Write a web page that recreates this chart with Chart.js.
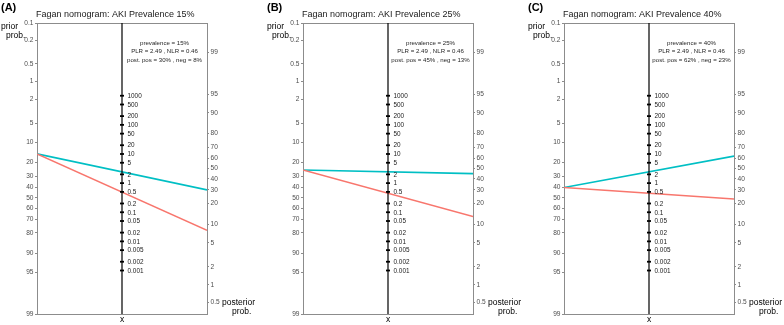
<!DOCTYPE html>
<html>
<head>
<meta charset="utf-8">
<script src="https://cdn.jsdelivr.net/npm/chart.js@4"></script>
<style>
    html, body { margin: 0; padding: 0; background: #fff; }
    #wrap { position: relative; width: 784px; height: 325px; overflow: hidden; }
    .panel { position: absolute; top: 0; height: 325px; }
</style>
</head>
<body>
<div id="wrap">
    <div class="panel" style="left:0px;width:262px"><canvas id="c0"></canvas></div>
    <div class="panel" style="left:262px;width:262px"><canvas id="c1"></canvas></div>
    <div class="panel" style="left:524px;width:260px"><canvas id="c2"></canvas></div>
</div>
<script>
// values
const panelLetters = ['(A)', '(B)', '(C)'];
const prevalence = [15, 25, 40];
const plrValues = [2.49, 2.49, 2.49];
const nlrValues = [0.46, 0.46, 0.46];
const postPositive = [30, 45, 62];
const postNegative = [8, 13, 23];
const priorTicks = [0.1, 0.2, 0.5, 1, 2, 5, 10, 20, 30, 40, 50, 60, 70, 80, 90, 95, 99];
const posteriorTicks = [99, 95, 90, 80, 70, 60, 50, 40, 30, 20, 10, 5, 2, 1, 0.5];
const lrTicks = [1000, 500, 200, 100, 50, 20, 10, 5, 2, 1, 0.5, 0.2, 0.1, 0.05, 0.02, 0.01, 0.005, 0.002, 0.001];

const FONT = '"Liberation Sans", Arial, sans-serif';
const plotLefts = [37, 41, 40];
const plotWidth = 170;

// left axis = log-odds of prior, right axis mirrored around the middle of the plot
function logit(pct) {
    var p = pct / 100;
    return Math.log(p / (1 - p));
}
var yMin = logit(priorTicks[0]);
var yMax = logit(priorTicks[priorTicks.length - 1]);
var yMid = (yMin + yMax) / 2;

function posteriorPos(pct) { return yMid - logit(pct); }
function lrPos(lr) { return (yMid - Math.log(lr)) / 2; }

var nomogramText = {
    id: 'nomogramText',
    beforeDatasetsDraw: function (chart) {
        var a = chart.chartArea, ctx = chart.ctx;
        ctx.save();
        ctx.strokeStyle = '#8c8c8c';
        ctx.lineWidth = 1;
        ctx.strokeRect(Math.round(a.left) + 0.5, Math.round(a.top) + 0.5, Math.round(a.right - a.left), Math.round(a.bottom - a.top));
        ctx.restore();
    },
    afterDraw: function (chart, args, opts) {
        var i = opts.panel;
        var a = chart.chartArea, ctx = chart.ctx;
        var xs = chart.scales.x;
        ctx.save();
        ctx.textBaseline = 'middle';

        // panel letter and title
        ctx.fillStyle = '#000';
        ctx.textAlign = 'left';
        ctx.font = 'bold 11px ' + FONT;
        ctx.fillText(panelLetters[i], a.left - 37 + 1, 7.5);
        ctx.font = '9px ' + FONT;
        ctx.fillStyle = '#1a1a1a';
        ctx.fillText('Fagan nomogram: AKI Prevalence ' + prevalence[i] + '%', a.left - 1, 15);

        // axis names
        ctx.font = '8.5px ' + FONT;
        ctx.fillStyle = '#000';
        ctx.fillText('prior', a.left - 36, 27);
        ctx.fillText('prob.', a.left - 31, 35.5);
        ctx.fillText('posterior', a.right + 15, 302.5);
        ctx.fillText('prob.', a.right + 25, 311.5);
        ctx.textAlign = 'center';
        ctx.fillText('x', xs.getPixelForValue(0.5), 320);

        // LR labels next to the middle axis
        var meta = chart.getDatasetMeta(1);
        ctx.font = '6.4px ' + FONT;
        ctx.fillStyle = '#1a1a1a';
        ctx.textAlign = 'left';
        meta.data.forEach(function (pt, k) {
            ctx.fillText(String(lrTicks[k]), pt.x + 5.5, pt.y + 0.5);
        });

        // summary text
        var cx = xs.getPixelForValue(0.75);
        ctx.textAlign = 'center';
        ctx.font = '6.1px ' + FONT;
        ctx.fillStyle = '#262626';
        ctx.fillText('prevalence = ' + prevalence[i] + '%', cx, a.top + 20);
        ctx.fillText('PLR = ' + plrValues[i].toFixed(2) + ' , NLR = ' + nlrValues[i].toFixed(2), cx, a.top + 28.5);
        ctx.fillText('post. pos = ' + postPositive[i] + '% , neg = ' + postNegative[i] + '%', cx, a.top + 37.5);
        ctx.restore();
    }
};

function makePanel(i) {
    var ctx = document.getElementById('c' + i).getContext('2d');
    var left = plotLefts[i];
    return new Chart(ctx, {
        type: 'scatter',
        data: {
            datasets: [
                {
                    data: [{ x: 0.5, y: yMin }, { x: 0.5, y: yMax }],
                    showLine: true,
                    borderColor: '#000',
                    borderWidth: 1.2,
                    pointRadius: 0
                },
                {
                    data: lrTicks.map(function (lr) { return { x: 0.5, y: lrPos(lr) }; }),
                    pointStyle: 'line',
                    pointRadius: 2,
                    borderWidth: 1.8,
                    borderColor: '#000',
                    backgroundColor: '#000'
                },
                {
                    data: [{ x: 0, y: logit(prevalence[i]) }, { x: 1, y: posteriorPos(postNegative[i]) }],
                    showLine: true,
                    borderColor: '#F8766D',
                    borderWidth: 1.6,
                    pointRadius: 0
                },
                {
                    data: [{ x: 0, y: logit(prevalence[i]) }, { x: 1, y: posteriorPos(postPositive[i]) }],
                    showLine: true,
                    borderColor: '#00BFC4',
                    borderWidth: 1.6,
                    pointRadius: 0
                }
            ]
        },
        options: {
            responsive: true,
            maintainAspectRatio: false,
            animation: false,
            devicePixelRatio: 1,
            layout: { padding: { left: left - 37, top: 23, bottom: 11, right: 0 } },
            plugins: {
                legend: { display: false },
                tooltip: { enabled: false },
                nomogramText: { panel: i }
            },
            scales: {
                x: { type: 'linear', min: 0, max: 1, display: false },
                y: {
                    type: 'linear', position: 'left', min: yMin, max: yMax, reverse: true,
                    afterBuildTicks: function (axis) {
                        axis.ticks = priorTicks.map(function (p) { return { value: logit(p) }; });
                    },
                    afterFit: function (axis) { axis.width = 37; },
                    ticks: {
                        autoSkip: false, padding: 1.5, color: '#4d4d4d',
                        font: { size: 6.6, family: FONT },
                        callback: function (v, k) { return String(priorTicks[k]); }
                    },
                    grid: { drawOnChartArea: false, tickLength: 2, color: '#8c8c8c' },
                    border: { display: false }
                },
                y2: {
                    type: 'linear', position: 'right', min: yMin, max: yMax, reverse: true,
                    afterBuildTicks: function (axis) {
                        axis.ticks = posteriorTicks.map(function (p) { return { value: posteriorPos(p) }; });
                    },
                    afterFit: function (axis) { axis.width = axis.chart.width - left - plotWidth; },
                    ticks: {
                        autoSkip: false, padding: 1.5, color: '#4d4d4d',
                        font: { size: 6.6, family: FONT },
                        callback: function (v, k) { return String(posteriorTicks[k]); }
                    },
                    grid: { drawOnChartArea: false, tickLength: 2, color: '#8c8c8c' },
                    border: { display: false }
                }
            }
        },
        plugins: [nomogramText]
    });
}

document.addEventListener('DOMContentLoaded', function () {
    for (var i = 0; i < 3; i++) {
        makePanel(i);
    }
});
</script>
</body>
</html>
